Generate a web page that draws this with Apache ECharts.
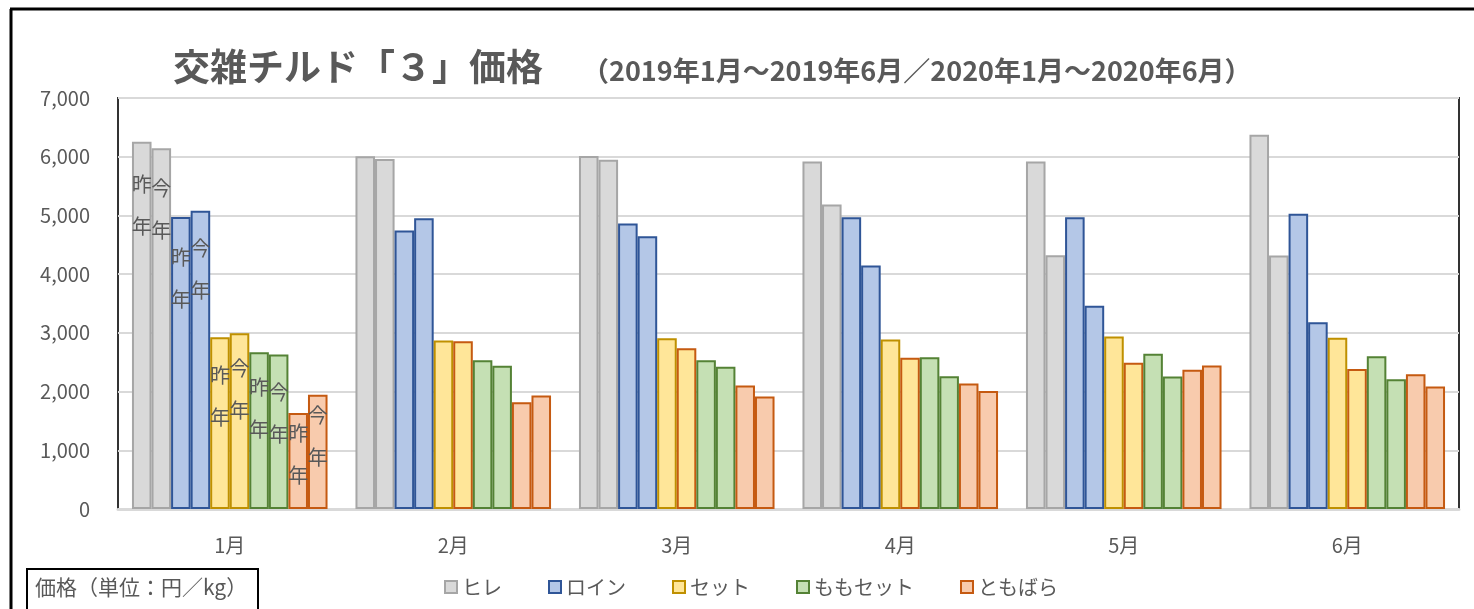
<!DOCTYPE html>
<html>
<head>
<meta charset="utf-8">
<script src="https://cdn.jsdelivr.net/npm/echarts@6/dist/echarts.min.js"></script>
<style>
	html, body { margin: 0; padding: 0; background: #fff; }
	#main { width: 1474px; height: 609px; }
</style>
</head>
<body>
<div id="main"></div>
<script>
var months = ['1月', '2月', '3月', '4月', '5月', '6月'];
var kinds = ['ヒレ', 'ロイン', 'セット', 'ももセット', 'ともばら'];
var yTicks = [0, 1000, 2000, 3000, 4000, 5000, 6000, 7000];

// 昨年 / 今年
var hireLast = [6255, 6010, 6011, 5920, 5920, 6375];
var hireThis = [6143, 5960, 5950, 5188, 4320, 4318];
var loinLast = [4973, 4743, 4863, 4971, 4971, 5028];
var loinThis = [5080, 4954, 4646, 4148, 3463, 3182];
var setLast = [2927, 2869, 2909, 2886, 2937, 2915];
var setThis = [2995, 2857, 2737, 2577, 2491, 2386];
var momoLast = [2671, 2532, 2532, 2583, 2646, 2602];
var momoThis = [2631, 2441, 2423, 2263, 2257, 2210];
var tomoLast = [1637, 1817, 2103, 2137, 2371, 2295];
var tomoThis = [1944, 1932, 1914, 2011, 2446, 2085];

var fills = ['#D9D9D9', '#B4C7E7', '#FFE699', '#C5E0B4', '#F8CBAD'];
var borders = ['#A6A6A6', '#2F5597', '#BF9000', '#548235', '#C55A11'];
var textGray = '#595959';
var font = '"Noto Sans CJK JP", "Noto Sans", sans-serif';

var pairs = [
	[hireLast, hireThis],
	[loinLast, loinThis],
	[setLast, setThis],
	[momoLast, momoThis],
	[tomoLast, tomoThis]
];
// 1月の「昨年」「今年」ラベルの縦位置
var labelShift = [[22, 19], [19, 17], [17, 14], [14, 17], [0, 0]];

var series = [];
for (var k = 0; k < kinds.length; k++) {
	for (var j = 0; j < 2; j++) {
		var data = [];
		for (var m = 0; m < months.length; m++) {
			var item = { value: pairs[k][j][m] };
			if (m == 0) {
				item.label = {
					show: true,
					position: 'insideTop',
					distance: 0,
					offset: [0, labelShift[k][j]],
					formatter: j == 0 ? '昨\n年' : '今\n年',
					fontSize: 20,
					lineHeight: 42,
					color: textGray,
					fontFamily: font
				};
			}
			// セット今年は2月以降オレンジ枠
			if (k == 2 && j == 1 && m > 0) {
				item.itemStyle = { borderColor: '#C55A11' };
			}
			data.push(item);
		}
		series.push({
			name: kinds[k],
			type: 'bar',
			barGap: '0%',
			barCategoryGap: '12.5%',
			itemStyle: { color: fills[k], borderColor: borders[k], borderWidth: 2 },
			emphasis: { disabled: true },
			animation: false,
			data: data
		});
	}
}

var legendData = [];
for (var i = 0; i < kinds.length; i++) {
	legendData.push({ name: kinds[i], itemStyle: { color: fills[i], borderColor: borders[i], borderWidth: 2 } });
}

var myChart = echarts.init(document.getElementById('main'));
var option = {
	backgroundColor: '#fff',
	animation: false,
	title: [
		{
			text: '交雑チルド「３」価格',
			left: 168,
			top: 43,
			textStyle: { fontSize: 37, fontWeight: 'bold', color: textGray, fontFamily: font }
		},
		{
			text: '（2019年1月～2019年6月／2020年1月～2020年6月）',
			left: 577,
			top: 52,
			textStyle: { fontSize: 27, fontWeight: 'bold', color: textGray, fontFamily: font }
		}
	],
	legend: {
		data: legendData,
		left: 439,
		top: 572,
		icon: 'rect',
		itemWidth: 12,
		itemHeight: 12,
		itemGap: 46,
		textStyle: { fontSize: 20, color: textGray, fontFamily: font }
	},
	grid: {
		left: 118,
		right: 15,
		top: 98,
		bottom: 100,
		show: true,
		borderColor: '#333',
		borderWidth: 2
	},
	xAxis: {
		type: 'category',
		data: months,
		axisLine: { show: true, lineStyle: { color: '#D9D9D9', width: 3 } },
		axisTick: { show: false },
		axisLabel: { fontSize: 20, color: textGray, margin: 26, fontFamily: font }
	},
	yAxis: {
		type: 'value',
		min: yTicks[0],
		max: yTicks[yTicks.length - 1],
		interval: 1000,
		axisLine: { show: false },
		axisTick: { show: false },
		splitLine: { lineStyle: { color: '#D9D9D9', width: 2 } },
		axisLabel: {
			fontSize: 20,
			color: textGray,
			margin: 28,
			fontFamily: font,
			formatter: function (v) { return v.toLocaleString('en-US'); }
		}
	},
	graphic: [
		{ type: 'line', shape: { x1: 10, y1: 9, x2: 1474, y2: 9 }, style: { stroke: '#000', lineWidth: 3 }, silent: true },
		{ type: 'line', shape: { x1: 11, y1: 9, x2: 11, y2: 609 }, style: { stroke: '#000', lineWidth: 3 }, silent: true },
		{ type: 'rect', shape: { x: 27, y: 569, width: 231, height: 50 }, style: { fill: '#fff', stroke: '#000', lineWidth: 2 }, silent: true },
		{
			type: 'text', left: 35, top: 577, silent: true,
			style: { text: '価格（単位：円／kg）', fontSize: 21, fill: textGray, fontFamily: font }
		}
	],
	series: series
};
myChart.setOption(option);
</script>
</body>
</html>
